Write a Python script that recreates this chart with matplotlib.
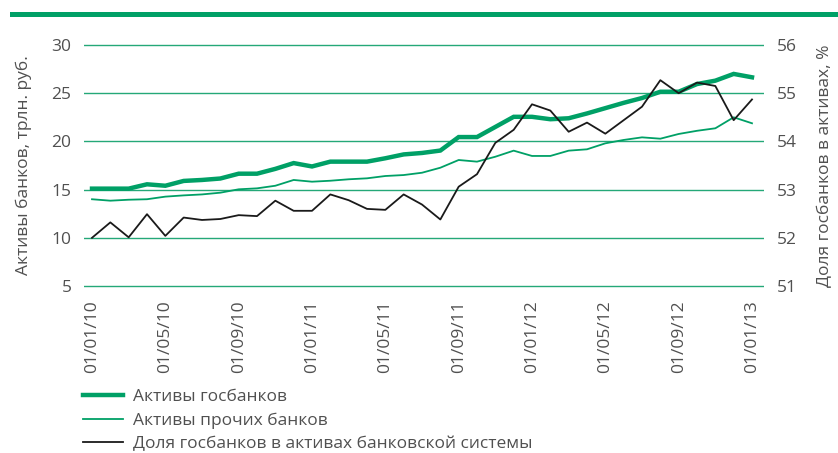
import matplotlib
matplotlib.use('Agg')
import matplotlib.pyplot as plt
from matplotlib.patches import Rectangle
import numpy as np

plt.rcParams['font.family'] = ['Open Sans', 'DejaVu Sans']

# monthly data 01/2010 .. 01/2013
state_assets = [15.1, 15.1, 15.1, 15.55, 15.4, 15.9, 16.0, 16.15, 16.65, 16.65,
                17.15, 17.75, 17.4, 17.9, 17.9, 17.9, 18.25, 18.65, 18.8, 19.05,
                20.45, 20.45, 21.5, 22.55, 22.55, 22.3, 22.4, 22.9, 23.45, 24.0,
                24.5, 25.15, 25.15, 25.95, 26.3, 27.0, 26.65]
other_assets = [14.0, 13.85, 13.95, 14.0, 14.27, 14.4, 14.5, 14.68, 15.03, 15.13,
                15.4, 16.0, 15.82, 15.92, 16.07, 16.17, 16.41, 16.51, 16.75, 17.27,
                18.07, 17.9, 18.41, 19.04, 18.49, 18.49, 19.04, 19.18, 19.8, 20.15,
                20.42, 20.28, 20.77, 21.1, 21.36, 22.5, 21.88]
state_share = [52.0, 52.32, 52.01, 52.49, 52.04, 52.42, 52.37, 52.39, 52.47, 52.45,
               52.77, 52.56, 52.56, 52.9, 52.78, 52.6, 52.58, 52.9, 52.69, 52.38,
               53.06, 53.32, 53.97, 54.24, 54.77, 54.64, 54.2, 54.39, 54.16, 54.44,
               54.72, 55.27, 55.0, 55.22, 55.15, 54.44, 54.87]
tick_labels = ['01/01/10', '01/05/10', '01/09/10', '01/01/11', '01/05/11',
               '01/09/11', '01/01/12', '01/05/12', '01/09/12', '01/01/13']
legend_labels = ['Активы госбанков', 'Активы прочих банков',
                 'Доля госбанков в активах банковской системы']

x = np.arange(len(state_assets))
green = '#00a066'
grid_c = '#24a878'
text_c = '#505050'
fs = 12.5

W, H = 838, 453
fig = plt.figure(figsize=(W / 100, H / 100), dpi=100)
# top decorative bar
fig.add_artist(Rectangle((10 / W, 1 - 17 / H), 1 - 10 / W, 5 / H,
                         transform=fig.transFigure, color=green, lw=0))

pad = 2
ax = fig.add_axes([84 / W, (H - 286 - pad) / H, 680 / W, (241 + 2 * pad) / H])
ppu_l = 241 / 25
ax.set_ylim(5 - pad / ppu_l, 30 + pad / ppu_l)
ax2 = ax.twinx()
ppu_r = 241 / 5
ax2.set_ylim(51 - pad / ppu_r, 56 + pad / ppu_r)

ax.set_xlim(-8 / 18.33, 36 + 12 / 18.33)

for yv in range(5, 31, 5):
    ax.axhline(yv, color=grid_c, lw=1.0, zorder=0)

l1, = ax.plot(x, state_assets, color=green, lw=3.2, solid_joinstyle='miter', zorder=3)
l2, = ax.plot(x, other_assets, color=green, lw=1.3, zorder=3)
l3, = ax2.plot(x, state_share, color='#1a1a1a', lw=1.3, zorder=3)

for a in (ax, ax2):
    for s in a.spines.values():
        s.set_visible(False)
    a.tick_params(length=0, labelsize=fs, colors=text_c)

ax.set_yticks(range(5, 31, 5))
ax2.set_yticks(range(51, 57))
ax.tick_params(axis='y', pad=9)
ax2.tick_params(axis='y', pad=9)
ax.set_xticks(x[::4])
ax.set_xticklabels(tick_labels, rotation=90)
ax.tick_params(axis='x', pad=9)

ax.set_ylabel('Активы банков, трлн. руб.', fontsize=fs, color=text_c, labelpad=14)
ax2.set_ylabel('Доля госбанков в активах, %', fontsize=fs, color=text_c, labelpad=15)

fig.legend([l1, l2, l3], legend_labels, loc='upper left',
           bbox_to_anchor=(76 / W, 1 - 382 / H), frameon=False, fontsize=fs,
           handlelength=2.3, handletextpad=0.6, labelspacing=0.42,
           labelcolor=text_c, borderaxespad=0)

fig.savefig('out.png', dpi=100)
